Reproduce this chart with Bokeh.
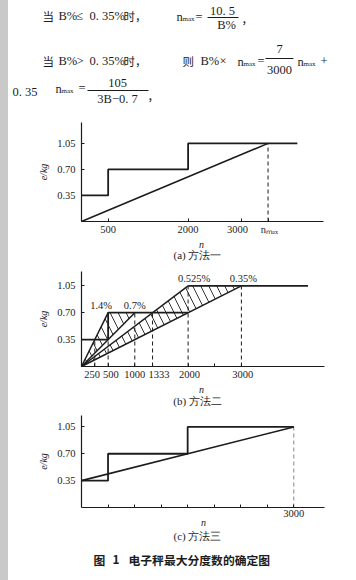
from bokeh.plotting import figure
from bokeh.layouts import column
from bokeh.models import Range1d, FixedTicker, NumeralTickFormatter
from bokeh.core.properties import value
from bokeh.embed import file_html
from bokeh.resources import INLINE

SERIF = "Liberation Serif"
CJK = "Noto Sans CJK SC"
INK = "#1c1c1c"
NB = "\u00a0"

# ---------------- header formula text (layout in px) ----------------
hz_text = ["当", "时，", "当", "时，", "则", "，", "，"]
hz_x = [42, 123, 42, 123, 182, 241, 147]
hz_y = [15, 15, 60, 60, 60, 18, 95]
hl_text = ["B%", "≤", "0. 35%", "n", "=",
           "B%", ">", "0. 35%", "B%", "×", "n", "=", "n", "+",
           "0. 35", "n", "="]
hl_x = [58, 76, 89, 176, 195,
        58, 76, 89, 200, 219, 237, 257, 297, 320,
        12, 55, 78]
hl_y = [15, 15, 15, 16, 16,
        60, 60, 60, 60, 60, 61, 60, 61, 60,
        91, 88, 87]
sub_text = ["max", "max", "max", "max"]
sub_x = [182, 243, 303, 61]
sub_y = [18, 63, 63, 90]
frac_text = ["10. 5", "B%", "7", "3000", "105", "3B−0. 7"]
frac_x = [222, 226, 279, 279, 117, 117]
frac_y = [10, 24, 48, 69, 82, 98]
bar_x0 = [207, 265, 87]
bar_x1 = [238, 293, 148]
bar_y = [17, 58, 90]

# ---------------- chart (a) ----------------
a_step_n = [0, 500, 500, 2000, 2000, 4050]
a_step_e = [0.35, 0.35, 0.70, 0.70, 1.05, 1.05]
a_nmax = 3500
a_line_n = [0, a_nmax]
a_line_e = [0, 1.05]
a_ticks = [500, 2000, 3000, a_nmax]
a_tick_labels = {3000: "3000" + NB * 3, a_nmax: NB + "nₘₐₓ"}

# ---------------- chart (b) ----------------
b_low_n = [0, 500, 500, 2000]
b_low_e = [0.35, 0.35, 0.70, 0.70]
b_top_n = [2000, 4250]
b_top_e = [1.05, 1.05]
b_ray_n = [500, 1000, 2000, 3000]
b_ray_e = [0.70, 0.70, 1.05, 1.05]
b_ray_labels = ["1.4%", "0.7%", "0.525%", "0.35%"]
b_label_dx = [-7, 0, 6, 2]
b_dash_n = [250, 500, 1000, 1333, 2000, 3000]
b_dash_e = [0.35, 0.70, 0.70, 0.70, 1.05, 1.05]
b_hatch1_n = [0, 500, 1000]
b_hatch1_e = [0, 0.70, 0.70]
b_hatch2_n = [0, 2000, 3000]
b_hatch2_e = [0, 1.05, 1.05]
b_ticks = [250, 500, 1000, 1333, 2000, 2500, 3000]
b_tick_labels = {250: "250" + NB * 2, 500: NB * 2 + "500", 1333: NB * 5 + "1333",
                 2000: NB + "2000", 3000: NB + "3000", 2500: ""}

# ---------------- chart (c) ----------------
c_step_n = [0, 375, 375, 1500, 1500, 3000]
c_step_e = [0.35, 0.35, 0.70, 0.70, 1.05, 1.05]
c_line_n = [0, 3000]
c_line_e = [0.35, 1.05]
c_ticks = [375, 750, 1125, 1500, 1875, 2250, 2625, 3000]
c_dash_n = 3000
c_dash_e = 1.05

e_ticks = [0.35, 0.70, 1.05]
captions = ["(a) 方法一", "(b) 方法二", "(c) 方法三"]
fig_caption = ["图", "1", "电子秤最大分度数的确定图"]
fig_caption_x = [93, 112, 128]

W = 356
X0 = 81  # page x of the origin of each chart


def plain(height):
    p = figure(width=W, height=height, x_range=Range1d(0, W), y_range=Range1d(height, 0),
               output_backend="svg", toolbar_location=None,
               x_axis_location=None, y_axis_location=None, min_border=0)
    p.grid.visible = False
    p.outline_line_color = None
    p.border_fill_color = None
    p.background_fill_color = None
    return p


def header():
    p = plain(108)
    p.text(x=hz_x, y=hz_y, text=hz_text, text_font=value(CJK), text_font_size="11.5px",
           text_baseline="middle", text_align="left", text_color=INK)
    p.text(x=hl_x, y=hl_y, text=hl_text, text_font=value(SERIF), text_font_size="12.5px",
           text_baseline="middle", text_align="left", text_color=INK)
    p.text(x=sub_x, y=sub_y, text=sub_text, text_font=value(SERIF), text_font_size="7px",
           text_baseline="middle", text_align="left", text_color=INK)
    p.text(x=frac_x, y=frac_y, text=frac_text, text_font=value(SERIF), text_font_size="12.5px",
           text_baseline="middle", text_align="center", text_color=INK)
    p.segment(x0=bar_x0, x1=bar_x1, y0=bar_y, y1=bar_y, line_color=INK, line_width=1)
    return p


class Chart:
    def __init__(self, top, height, axis_y, xs, ys, xmax, ymax, xticks, overrides):
        # xs: px per unit of n, ys: px per unit of e; axis_y: page y of e = 0
        self.top, self.axis_y, self.xs, self.ys = top, axis_y, xs, ys
        p = figure(width=W, height=height,
                   x_range=Range1d(-X0 / xs, (W - X0) / xs),
                   y_range=Range1d((axis_y - top - height) / ys, (axis_y - top) / ys),
                   output_backend="svg", toolbar_location=None, min_border=0)
        p.grid.visible = False
        p.outline_line_color = None
        p.border_fill_color = None
        p.background_fill_color = None
        for ax in (p.xaxis[0], p.yaxis[0]):
            ax.fixed_location = 0
            ax.axis_line_color = INK
            ax.axis_line_width = 1.2
            ax.major_tick_line_color = INK
            ax.major_tick_in = 3
            ax.major_tick_out = 0
            ax.minor_tick_line_color = None
            ax.major_label_text_font = SERIF
            ax.major_label_text_font_size = "10.5px"
            ax.major_label_text_color = INK
            ax.axis_label_text_font = SERIF
            ax.axis_label_text_font_size = "10px"
            ax.axis_label_text_font_style = "italic"
            ax.axis_label_text_color = INK
        xa = p.xaxis[0]
        xa.bounds = (0, xmax)
        xa.ticker = FixedTicker(ticks=xticks)
        xa.major_label_standoff = 2
        xa.major_label_overrides = overrides
        ya = p.yaxis[0]
        ya.bounds = (0, ymax)
        ya.ticker = FixedTicker(ticks=e_ticks)
        ya.formatter = NumeralTickFormatter(format="0.00")
        ya.major_label_standoff = 6
        ya.axis_label = "e/kg"
        ya.axis_label_standoff = 5
        self.p = p

    def px(self, x):
        return (x - X0) / self.xs

    def py(self, y):
        return (self.axis_y - y) / self.ys

    def texts(self, caption, cap_pt, n_pt):
        self.p.text(x=[self.px(n_pt[0])], y=[self.py(n_pt[1])], text=["n"],
                    text_font=value(SERIF), text_font_size="10px", text_font_style="italic",
                    text_align="center", text_baseline="middle", text_color=INK)
        self.p.text(x=[self.px(cap_pt[0])], y=[self.py(cap_pt[1])], text=[caption],
                    text_font=value(SERIF), text_font_size="11px",
                    text_align="center", text_baseline="middle", text_color=INK)


ca = Chart(108, 154, 221, 0.0533, 74.4, 4540, 1.333, a_ticks, a_tick_labels)
ca.texts(captions[0], (197, 254), (201, 244))
pa = ca.p
pa.line(a_step_n, a_step_e, line_color=INK, line_width=1.8)
pa.line(a_line_n, a_line_e, line_color=INK, line_width=1.6)
pa.segment(x0=[a_nmax], x1=[a_nmax], y0=[0], y1=[1.05], line_color=INK,
           line_width=1, line_dash="4 3")

cb = Chart(262, 147, 366, 0.0533, 76.86, 4560, 1.236, b_ticks, b_tick_labels)
cb.texts(captions[1], (197, 400), (201, 389))
pb = cb.p
pb.patch(b_hatch1_n, b_hatch1_e, fill_alpha=0, line_alpha=0, hatch_pattern="\\",
         hatch_color=INK, hatch_scale=16, hatch_weight=0.9)
pb.patch(b_hatch2_n, b_hatch2_e, fill_alpha=0, line_alpha=0, hatch_pattern="\\",
         hatch_color=INK, hatch_scale=16, hatch_weight=0.9)
pb.segment(x0=b_dash_n, x1=b_dash_n, y0=[0] * len(b_dash_n), y1=b_dash_e,
           line_color=INK, line_width=1, line_dash="4 3")
pb.segment(x0=[0] * len(b_ray_n), y0=[0] * len(b_ray_n), x1=b_ray_n, y1=b_ray_e,
           line_color=INK, line_width=1.5)
pb.line(b_low_n, b_low_e, line_color=INK, line_width=1.8)
pb.line(b_top_n, b_top_e, line_color=INK, line_width=1.8)
pb.text(x=b_ray_n, y=b_ray_e, text=b_ray_labels, x_offset=b_label_dx, y_offset=-2,
        text_font=value(SERIF), text_font_size="10.5px", text_align="center",
        text_baseline="bottom", text_color=INK)

cc = Chart(409, 136, 507, 0.07077, 76.76, 3434, 1.20, c_ticks,
           {t: "" for t in c_ticks if t != 3000})
cc.texts(captions[2], (197, 535), (203, 522))
pc = cc.p
pc.segment(x0=[c_dash_n], x1=[c_dash_n], y0=[0], y1=[c_dash_e], line_color="#888888",
           line_width=1, line_dash="4 3")
pc.line(c_step_n, c_step_e, line_color=INK, line_width=1.8)
pc.line(c_line_n, c_line_e, line_color=INK, line_width=1.6)

cap = plain(35)
cap.text(x=fig_caption_x, y=[14] * 3, text=fig_caption, text_font=value(CJK),
         text_font_size="11.8px", text_font_style="bold", text_align="left",
         text_baseline="middle", text_color=INK)

layout = column(header(), pa, pb, pc, cap, spacing=0,
                styles={"background": "linear-gradient(to right, #c9c9c9 0px, #c9c9c9 8px, #ffffff 8px)"})
open("out.html", "w").write(file_html(layout, INLINE))
